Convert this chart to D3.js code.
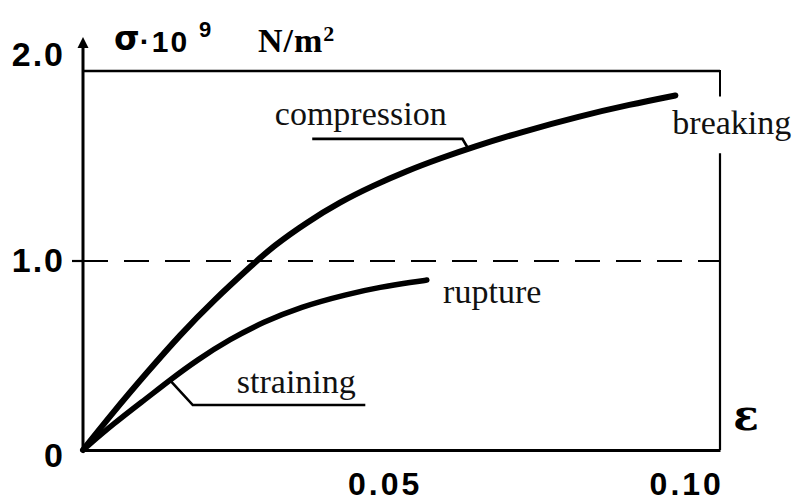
<!DOCTYPE html>
<html><head><meta charset="utf-8">
<script src="https://cdn.jsdelivr.net/npm/d3@7"></script>
<style>body{margin:0;background:#fff}svg{display:block}</style>
</head><body><svg id="c" width="796" height="501"></svg>
<script>
// ---- data (strain ε, stress σ·10^9 N/m²) ----
const compressionStrain = [0, 0.0050, 0.0106, 0.0161, 0.0216, 0.0284, 0.0315, 0.0371, 0.0426, 0.0481, 0.0537, 0.0592, 0.0647, 0.0725, 0.0824, 0.0907, 0.0982];
const compressionStress = [0, 0.20, 0.41, 0.61, 0.79, 0.989, 1.078, 1.205, 1.312, 1.399, 1.477, 1.543, 1.604, 1.681, 1.767, 1.828, 1.876];
const strainingStrain = [0, 0.0050, 0.0106, 0.0144, 0.0189, 0.0244, 0.0299, 0.0360, 0.0438, 0.0493, 0.0547, 0.0570];
const strainingStress = [0, 0.138, 0.275, 0.370, 0.476, 0.587, 0.677, 0.757, 0.825, 0.862, 0.889, 0.899];
const xTickValues = [0.05, 0.10];
const xTickLabels = ["0.05", "0.10"];
const yTickValues = [0, 1, 2];
const yTickLabels = ["0", "1.0", "2.0"];
const dashedLevel = 1.0;
const xFrameMax = 0.1056;
const yFrameMax = 2.0;
// annotation anchors in data units
const labelNames = ["compression", "breaking", "rupture", "straining"];
const labelStrain = [0.0318, 0.0977, 0.0597, 0.0255];
const labelStress = [1.72, 1.672, 0.778, 0.302];
const compressionLeaderStrain = [0.0380, 0.0629, 0.0637];
const compressionLeaderStress = [1.646, 1.646, 1.603];
const strainingLeaderStrain = [0.0144, 0.0182, 0.0468];
const strainingLeaderStress = [0.370, 0.238, 0.238];

const svg = d3.select("#c");
svg.append("rect").attr("width", 796).attr("height", 501).attr("fill", "#fff");

const x = d3.scaleLinear().domain([0, xFrameMax]).range([83, 720]);
const y = d3.scaleLinear().domain([0, yFrameMax]).range([450, 72]);

const ink = "#000";
const zip = (a, b) => a.map((v, i) => [v, b[i]]);
const line = d3.line().x(d => x(d[0])).y(d => y(d[1]));

// frame: top line and right line (gap for "breaking")
svg.append("line").attr("x1", x(0)).attr("x2", x(xFrameMax)).attr("y1", y(yFrameMax) - 1).attr("y2", y(yFrameMax) - 1)
  .attr("stroke", ink).attr("stroke-width", 2.5);
svg.append("line").attr("x1", x(xFrameMax)).attr("x2", x(xFrameMax)).attr("y1", y(yFrameMax) - 2).attr("y2", y(1.87))
  .attr("stroke", ink).attr("stroke-width", 2);
svg.append("line").attr("x1", x(xFrameMax)).attr("x2", x(xFrameMax)).attr("y1", y(1.57)).attr("y2", y(0))
  .attr("stroke", ink).attr("stroke-width", 2.2);

// dashed level line
svg.append("line").attr("x1", x(0)).attr("x2", x(xFrameMax)).attr("y1", y(dashedLevel)).attr("y2", y(dashedLevel))
  .attr("stroke", ink).attr("stroke-width", 2.2).attr("stroke-dasharray", "25,16");
svg.append("line").attr("x1", x(0) - 11).attr("x2", x(0)).attr("y1", y(dashedLevel)).attr("y2", y(dashedLevel))
  .attr("stroke", ink).attr("stroke-width", 2.2);

// x axis
const xAxis = d3.axisBottom(x).tickValues(xTickValues).tickFormat((d, i) => xTickLabels[i])
  .tickSize(0).tickSizeOuter(0).tickPadding(22);
const gx = svg.append("g").attr("transform", `translate(0,${y(0)})`).call(xAxis);
gx.select(".domain").attr("stroke", ink).attr("stroke-width", 3);
gx.selectAll("text").attr("fill", ink)
  .style("font-family", "'Liberation Sans', Arial, sans-serif").style("font-weight", "bold")
  .style("font-size", "32px").style("letter-spacing", "3px");

// y axis
const yAxis = d3.axisLeft(y).tickValues(yTickValues).tickFormat((d, i) => yTickLabels[i])
  .tickSize(0).tickSizeOuter(0).tickPadding(18);
const gy = svg.append("g").attr("transform", `translate(${x(0)},0)`).call(yAxis);
gy.select(".domain").remove();
gy.selectAll("text").attr("fill", ink)
  .style("font-family", "'Liberation Sans', Arial, sans-serif").style("font-weight", "bold")
  .style("font-size", "34px").style("letter-spacing", "2px")
  .attr("y", d => d === 2 ? -17 : (d === 0 ? 6 : 0));
const axisTop = y(yFrameMax) - 35;
svg.append("line").attr("x1", x(0)).attr("x2", x(0)).attr("y1", y(0)).attr("y2", axisTop + 6)
  .attr("stroke", ink).attr("stroke-width", 3);
svg.append("path").attr("d", `M${x(0)},${axisTop} L${x(0) - 5.5},${axisTop + 11} L${x(0) + 5.5},${axisTop + 11} Z`)
  .attr("fill", ink);

// curves
svg.append("path").datum(zip(compressionStrain, compressionStress))
  .attr("d", line.curve(d3.curveBasis))
  .attr("fill", "none").attr("stroke", ink).attr("stroke-width", 6).attr("stroke-linecap", "round");
svg.append("path").datum(zip(strainingStrain, strainingStress))
  .attr("d", line.curve(d3.curveBasis))
  .attr("fill", "none").attr("stroke", ink).attr("stroke-width", 5.5).attr("stroke-linecap", "round");

// leaders
const straightLine = d3.line().x(d => x(d[0])).y(d => y(d[1]));
svg.append("path").datum(zip(compressionLeaderStrain, compressionLeaderStress)).attr("d", straightLine)
  .attr("fill", "none").attr("stroke", ink).attr("stroke-width", 2.6);
svg.append("path").datum(zip(strainingLeaderStrain, strainingLeaderStress)).attr("d", straightLine)
  .attr("fill", "none").attr("stroke", ink).attr("stroke-width", 2.6);

// curve labels
svg.selectAll("text.lbl").data(labelNames).enter().append("text").attr("class", "lbl")
  .attr("x", (d, i) => x(labelStrain[i])).attr("y", (d, i) => y(labelStress[i]))
  .attr("fill", "#111")
  .style("font-family", "'Liberation Serif', 'Times New Roman', serif").style("font-size", "34px")
  .text(d => d);

// axis titles
const sig = svg.append("text").attr("x", 114).attr("y", 50).attr("fill", ink)
  .style("font-family", "'Liberation Sans', Arial, sans-serif").style("font-weight", "bold");
sig.append("tspan").style("font-family", "'DejaVu Sans', sans-serif").style("font-size", "33px").text("σ");
sig.append("tspan").attr("dy", 2).style("font-size", "30px").style("letter-spacing", "2px").text("·10");
sig.append("tspan").attr("dx", 10).attr("dy", -15).style("font-size", "22px").text("9");

const unit = svg.append("text").attr("x", 258).attr("y", 52).attr("fill", ink)
  .style("font-family", "'Liberation Serif', 'Times New Roman', serif").style("font-weight", "bold");
unit.append("tspan").style("font-size", "34px").style("letter-spacing", "1px").text("N/m");
unit.append("tspan").attr("dy", -11).style("font-size", "22px").text("2");

svg.append("text").attr("x", 746).attr("y", 430).attr("text-anchor", "middle").attr("fill", ink)
  .style("font-family", "'DejaVu Serif', serif").style("font-weight", "bold").style("font-size", "42px")
  .text("ε");
</script>
</body></html>
